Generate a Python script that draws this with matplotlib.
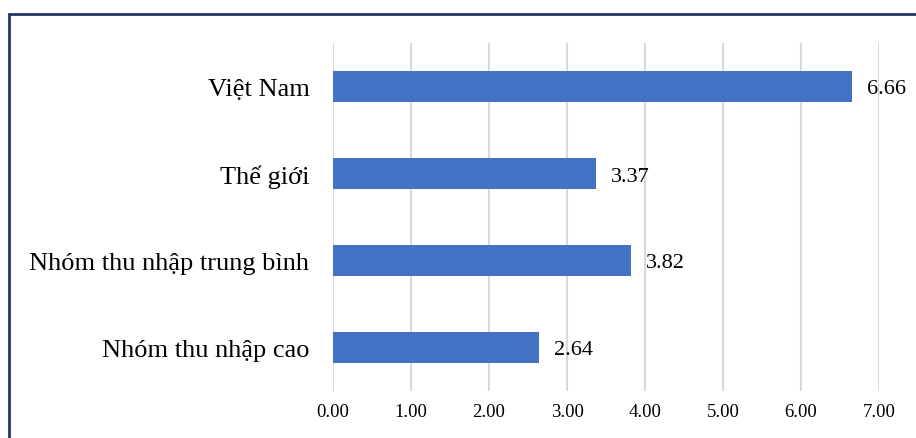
import matplotlib.pyplot as plt
from matplotlib.patches import Rectangle

plt.rcParams['font.family'] = ['Liberation Serif', 'DejaVu Serif']

categories = ["Việt Nam", "Thế giới", "Nhóm thu nhập trung bình", "Nhóm thu nhập cao"]
values = [6.66, 3.37, 3.82, 2.64]
xticks = [0, 1, 2, 3, 4, 5, 6, 7]

fig = plt.figure(figsize=(9.16, 4.39), dpi=100)
ax = fig.add_axes([333 / 916, 1 - 392 / 439, (879 - 333) / 916, (392 - 44) / 439])

pos = list(range(len(categories)))
ax.barh(pos, values, height=0.36, color='#4472C4', zorder=3)
for p, v in zip(pos, values):
    ax.text(v + 0.19, p, f"{v:.2f}", va='center_baseline', ha='left', fontsize=16)

ax.set_ylim(len(categories) - 0.5, -0.5)
ax.set_xlim(0, 7)
ax.set_yticks(pos)
ax.set_yticklabels(categories, fontsize=19, va='center_baseline')
ax.set_xticks(xticks)
ax.set_xticklabels([f"{t:.2f}" for t in xticks], fontsize=13.5)
ax.tick_params(axis='both', length=0)
ax.tick_params(axis='y', pad=17)
ax.tick_params(axis='x', pad=9)
ax.grid(axis='x', color='#D9D9D9', linewidth=1.5, zorder=0)
for s in ax.spines.values():
    s.set_visible(False)

# outer frame, cut off at the right and bottom
fig.patches.append(Rectangle((9 / 916, -0.1), 1.0, 1.1 - 15 / 439, transform=fig.transFigure,
                             fill=False, edgecolor='#1F3864', linewidth=2, clip_on=False))

fig.savefig('out.png', dpi=100)
